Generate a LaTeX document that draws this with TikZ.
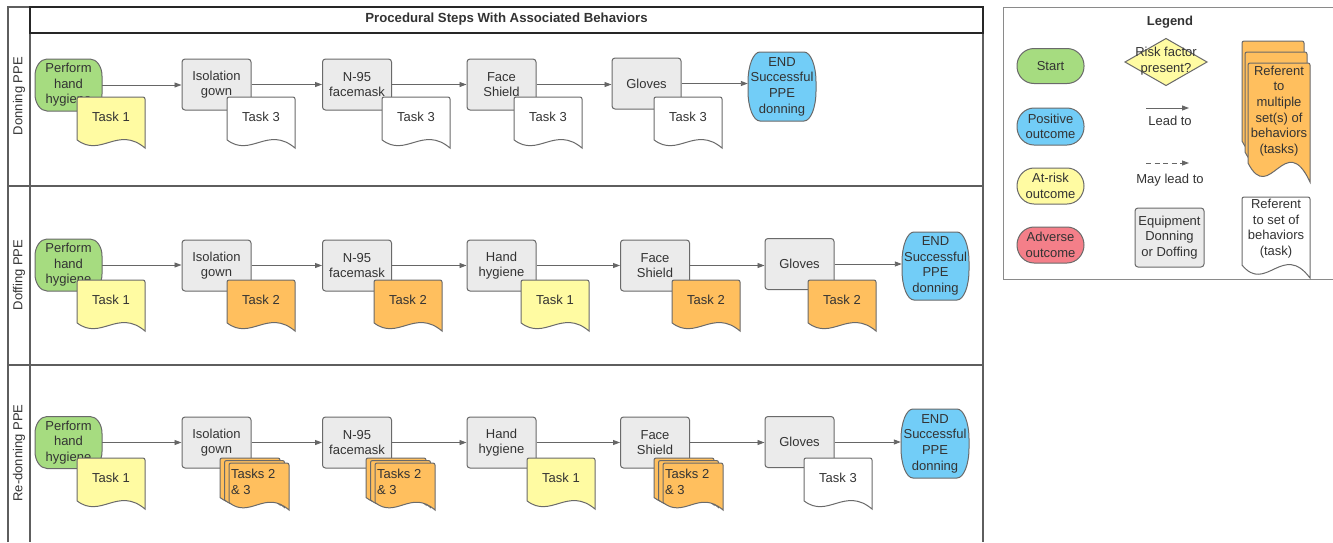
\documentclass[tikz,border=0pt]{standalone}
\usepackage{fontspec}
\setmainfont{Liberation Sans}
\usetikzlibrary{arrows.meta}
\definecolor{txtc}{HTML}{333333}
\definecolor{shapeborder}{HTML}{6A6A6A}
\definecolor{boxfill}{HTML}{EBEBEB}
\definecolor{greenf}{HTML}{A6DC80}
\definecolor{bluef}{HTML}{72CDF7}
\definecolor{yellowf}{HTML}{FFFBA2}
\definecolor{orangef}{HTML}{FFBF5E}
\definecolor{redf}{HTML}{F47F89}
\definecolor{lanec}{HTML}{5E5E5E}
\definecolor{arrc}{HTML}{666666}
\definecolor{legc}{HTML}{8A8A8A}

% terminator: name cx cy w h rx ry fill text
\newcommand\term[9]{%
  \pgfmathsetmacro\trmL{#2-#4/2}\pgfmathsetmacro\trmR{#2+#4/2}%
  \pgfmathsetmacro\trmT{#3-#5/2}\pgfmathsetmacro\trmB{#3+#5/2}%
  \pgfmathsetmacro\trmKx{0.448*#6}\pgfmathsetmacro\trmKy{0.448*#7}%
  \draw[shp, fill=#8] (\trmL+#6,\trmT) -- (\trmR-#6,\trmT)
    .. controls (\trmR-\trmKx,\trmT) and (\trmR,\trmT+\trmKy) .. (\trmR,\trmT+#7)
    -- (\trmR,\trmB-#7)
    .. controls (\trmR,\trmB-\trmKy) and (\trmR-\trmKx,\trmB) .. (\trmR-#6,\trmB)
    -- (\trmL+#6,\trmB)
    .. controls (\trmL+\trmKx,\trmB) and (\trmL,\trmB-\trmKy) .. (\trmL,\trmB-#7)
    -- (\trmL,\trmT+#7)
    .. controls (\trmL,\trmT+\trmKy) and (\trmL+\trmKx,\trmT) .. (\trmL+#6,\trmT) -- cycle;
  \node[txt, minimum width=#4pt, minimum height=#5pt] (#1) at (#2,#3) {#9};}

% document sheet: x y w h fill (x,y = top left)
\newcommand\docpath[5]{%
  \draw[shp, fill=#5, shift={(#1,#2)}] (0,0.84*#4) -- (0,2)
    .. controls (0,0.9) and (0.9,0) .. (2,0) -- (#3-2,0)
    .. controls (#3-0.9,0) and (#3,0.9) .. (#3,2) -- (#3,#4)
    .. controls (0.6*#3,0.55*#4) and (0.35*#3,1.2*#4) .. (0,0.84*#4) -- cycle;}

% single task document: name x y fill text
\newcommand\docnode[5]{%
  \docpath{#2}{#3}{68}{51}{#4}%
  \node[txt] (#1) at (#2+34,#3+20) {#5};}

% stacked task documents: name x y text
\newcommand\lanestack[4]{%
  \docpath{#2}{#3}{60}{47}{orangef}%
  \docpath{#2+4.5}{#3+2.5}{60}{47}{orangef}%
  \docpath{#2+9}{#3+5}{60}{47}{orangef}%
  \node[txt, align=left, anchor=north west] (#1) at (#2+11,#3+11) {#4};}

\begin{document}
\begin{tikzpicture}[x=1pt,y=-1pt,
  shp/.style={draw=shapeborder, line width=1pt},
  txt/.style={text=txtc, font=\fontsize{13}{15.6}\selectfont, align=center, inner sep=0pt},
  box/.style={shp, fill=boxfill, rounded corners=3pt, minimum width=69pt, minimum height=51pt, txt},
  arr/.style={draw=arrc, line width=0.9pt, -{Triangle[length=7pt,width=5pt]}},
  lanel/.style={draw=lanec, line width=1.2pt},
  titlel/.style={draw=black!85, line width=1.5pt},
  legl/.style={draw=legc, line width=1pt}]
\useasboundingbox (0,0) rectangle (1333,542);
\fill[white] (0,0) rectangle (1333,542);

% ---------- swimlane frame ----------
\draw[lanel] (8,542) -- (8,7) -- (30,7);
\draw[lanel] (983,33) -- (983,542);
\draw[lanel] (30,33) -- (30,542);
\draw[lanel] (8,186) -- (983,186);
\draw[lanel] (8,365) -- (983,365);
\draw[titlel] (30,7) rectangle (983,33);
\node[text=txtc, font=\bfseries\fontsize{13.2}{15}\selectfont, inner sep=0pt] (title) at (506.5,19) {Procedural Steps With Associated Behaviors};
\node[txt, rotate=90] (lab1) at (19,96) {Donning PPE};
\node[txt, rotate=90] (lab2) at (19,275) {Doffing PPE};
\node[txt, rotate=90] (lab3) at (19,453) {Re-donning PPE};

% ---------- Donning lane ----------
\term{s1}{68.5}{85}{67}{52}{12}{17}{greenf}{Perform\\hand\\hygiene}
\docnode{t11}{77}{97}{yellowf}{Task 1}
\node[box] (d1) at (216.5,84.5) {Isolation\\gown};
\docnode{t12}{227}{97}{white}{Task 3}
\node[box] (d2) at (357,84.5) {N-95\\facemask};
\docnode{t13}{382}{97}{white}{Task 3}
\node[box] (d3) at (501.5,84.5) {Face\\Shield};
\docnode{t14}{514}{97}{white}{Task 3}
\node[box] (d4) at (646.5,83.5) {Gloves};
\docnode{t15}{654}{97}{white}{Task 3}
\term{e1}{782}{86.5}{68}{69}{12}{30}{bluef}{END\\Successful\\PPE\\donning}
\draw[arr] (s1.east) -- (s1.east -| d1.west);
\draw[arr] (d1.east) -- (d1.east -| d2.west);
\draw[arr] (d2.east) -- (d2.east -| d3.west);
\draw[arr] (d3.east) -- (d3.east -| d4.west);
\draw[arr] (d4.east) -- (d4.east -| e1.west);

% ---------- Doffing lane ----------
\term{s2}{68.5}{265}{67}{52}{12}{17}{greenf}{Perform\\hand\\hygiene}
\docnode{t21}{77}{280}{yellowf}{Task 1}
\node[box] (f1) at (216.5,265.5) {Isolation\\gown};
\docnode{t22}{227}{280}{orangef}{Task 2}
\node[box] (f2) at (357,265.5) {N-95\\facemask};
\docnode{t23}{374}{280}{orangef}{Task 2}
\node[box] (f3) at (501.5,265.5) {Hand\\hygiene};
\docnode{t24}{521}{280}{yellowf}{Task 1}
\node[box] (f4) at (655,265.5) {Face\\Shield};
\docnode{t25}{672}{280}{orangef}{Task 2}
\node[box] (f5) at (799.5,264) {Gloves};
\docnode{t26}{808}{280}{orangef}{Task 2}
\term{e2}{935.5}{266}{67}{68}{12}{30}{bluef}{END\\Successful\\PPE\\donning}
\draw[arr] (s2.east) -- (s2.east -| f1.west);
\draw[arr] (f1.east) -- (f1.east -| f2.west);
\draw[arr] (f2.east) -- (f2.east -| f3.west);
\draw[arr] (f3.east) -- (f3.east -| f4.west);
\draw[arr] (f4.east) -- (f4.east -| f5.west);
\draw[arr] (f5.east) -- (f5.east -| e2.west);

% ---------- Re-donning lane ----------
\term{s3}{68.5}{442.5}{67}{52}{12}{17}{greenf}{Perform\\hand\\hygiene}
\docnode{t31}{77}{458}{yellowf}{Task 1}
\node[box] (r1) at (216.5,442.5) {Isolation\\gown};
\lanestack{t32}{220}{458}{Tasks 2\\\& 3}
\node[box] (r2) at (357,442.5) {N-95\\facemask};
\lanestack{t33}{366}{458}{Tasks 2\\\& 3}
\node[box] (r3) at (501.5,442.5) {Hand\\hygiene};
\docnode{t34}{527}{458}{yellowf}{Task 1}
\node[box] (r4) at (655,442.5) {Face\\Shield};
\lanestack{t35}{654}{458}{Tasks 2\\\& 3}
\node[box] (r5) at (799.5,442) {Gloves};
\docnode{t36}{804}{458}{white}{Task 3}
\term{e3}{935}{443.5}{68}{69}{12}{30}{bluef}{END\\Successful\\PPE\\donning}
\draw[arr] (s3.east) -- (s3.east -| r1.west);
\draw[arr] (r1.east) -- (r1.east -| r2.west);
\draw[arr] (r2.east) -- (r2.east -| r3.west);
\draw[arr] (r3.east) -- (r3.east -| r4.west);
\draw[arr] (r4.east) -- (r4.east -| r5.west);
\draw[arr] (r5.east) -- (r5.east -| e3.west);

% ---------- Legend ----------
\draw[legl] (1336,7) -- (1003,7) -- (1003,279) -- (1336,279);
\node[text=txtc, font=\bfseries\fontsize{13}{15}\selectfont, inner sep=0pt] (legtitle) at (1170,22) {Legend};
\term{lstart}{1050.5}{66}{67}{35}{17}{17}{greenf}{Start}
\term{lpos}{1050.5}{126.5}{67}{37}{17}{18}{bluef}{Positive\\outcome}
\term{lrisk}{1050.5}{186}{67}{36}{17}{18}{yellowf}{At-risk\\outcome}
\term{ladv}{1050.5}{245}{67}{36}{17}{18}{redf}{Adverse\\outcome}
\draw[shp, fill=yellowf] (1125,62) -- (1166,38.5) -- (1207,62) -- (1166,85.5) -- cycle;
\node[txt] (ldia) at (1166,61) {Risk factor\\present?};
\coordinate (la1) at (1146,108);
\coordinate (la2) at (1189,108);
\draw[arr] (la1) -- (la2);
\node[txt] (llead) at (1170,121) {Lead to};
\coordinate (lb1) at (1146,163);
\coordinate (lb2) at (1189,163);
\draw[arr, dash pattern=on 5pt off 3.5pt] (lb1) -- (lb2);
\node[txt] (lmay) at (1170,180) {May lead to};
\node[box, minimum width=69pt, minimum height=59pt] (lequip) at (1169.5,237.5) {Equipment\\Donning\\or Doffing};
\docpath{1242}{41}{62}{119}{orangef}
\docpath{1245}{52}{62}{119}{orangef}
\docpath{1248}{63}{62}{119}{orangef}
\node[txt] (lmulti) at (1279,111) {Referent\\to\\multiple\\set(s) of\\behaviors\\(tasks)};
\docpath{1242}{197}{68}{81}{white}
\node[txt] (lsingle) at (1276,228.5) {Referent\\to set of\\behaviors\\(task)};
\end{tikzpicture}
\end{document}
